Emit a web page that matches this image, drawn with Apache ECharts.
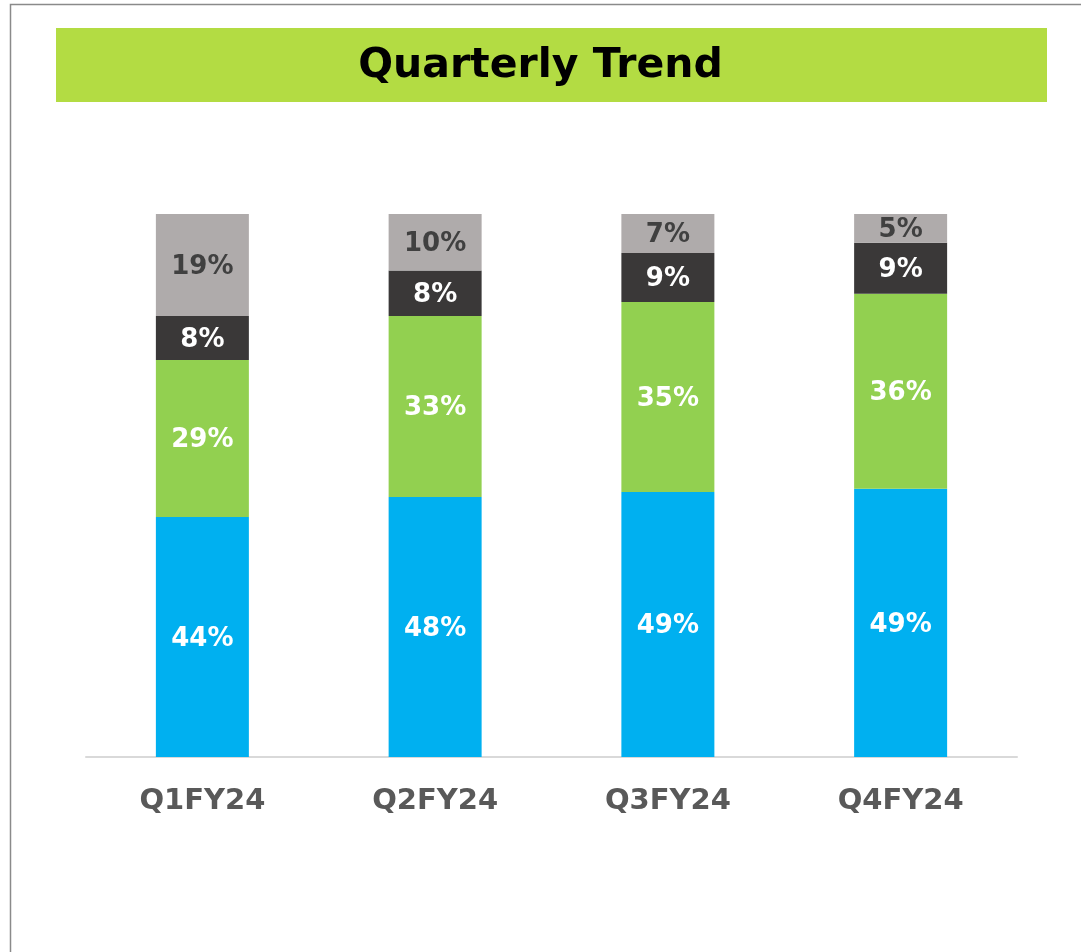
<!DOCTYPE html>
<html>
<head>
<meta charset="utf-8">
<script src="https://cdn.jsdelivr.net/npm/echarts@6/dist/echarts.min.js"></script>
<style>
  html, body { margin: 0; padding: 0; background: #fff; }
  #chart { width: 1081px; height: 952px; }
</style>
</head>
<body>
<div id="chart"></div>
<script>
const quarters = ['Q1FY24', 'Q2FY24', 'Q3FY24', 'Q4FY24']
// shares of each quarter, bottom segment first
const blueShare = [44.2, 47.9, 48.8, 49.4]
const greenShare = [28.9, 33.3, 35.0, 35.9]
const darkShare = [8.1, 8.4, 9.0, 9.4]
const greyShare = [18.8, 10.4, 7.2, 5.3]

const chart = echarts.init(document.getElementById('chart'))

const font = 'DejaVu Sans'
const pct = p => Math.round(p.value) + '%'

function stack(name, data, color, labelColor) {
  return {
    name,
    type: 'bar',
    stack: 'total',
    barWidth: 93,
    data,
    itemStyle: { color },
    label: {
      show: true,
      position: 'inside',
      offset: [0, 2],
      formatter: pct,
      color: labelColor,
      fontFamily: font,
      fontWeight: 'bold',
      fontSize: 26
    }
  }
}

chart.setOption({
  animation: false,
  graphic: [
    {
      type: 'polyline',
      shape: { points: [[10.5, 952], [10.5, 4.5], [1081, 4.5]] },
      style: { stroke: '#8a8a8a', lineWidth: 1.5, fill: null }
    },
    {
      type: 'rect',
      shape: { x: 56, y: 28, width: 991, height: 74 },
      style: { fill: '#b3dc43' },
      z: 0
    }
  ],
  title: {
    text: 'Quarterly Trend',
    left: 'center',
    top: 38,
    textStyle: {
      fontFamily: font,
      fontWeight: 'bold',
      fontSize: 41,
      lineHeight: 46,
      color: '#000'
    }
  },
  grid: { top: 214, bottom: 195, left: 86, right: 64 },
  xAxis: {
    type: 'category',
    data: quarters,
    axisLine: { lineStyle: { color: '#d9d9d9', width: 2 } },
    axisTick: { show: false },
    axisLabel: {
      margin: 30,
      color: '#595959',
      fontFamily: font,
      fontWeight: 'bold',
      fontSize: 29
    }
  },
  yAxis: {
    type: 'value',
    min: 0,
    max: 100,
    show: false
  },
  series: [
    stack('blue', blueShare, '#00b0f0', '#fff'),
    stack('green', greenShare, '#92d050', '#fff'),
    stack('dark', darkShare, '#3a3838', '#fff'),
    stack('grey', greyShare, '#afabab', '#404040')
  ]
})
</script>
</body>
</html>
